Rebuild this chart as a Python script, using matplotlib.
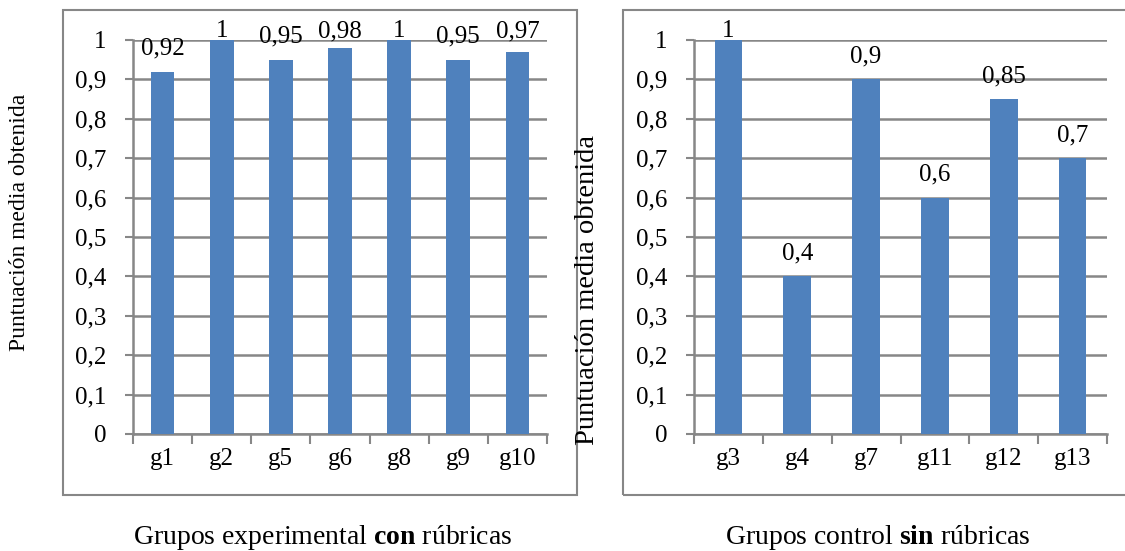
import matplotlib
matplotlib.use('Agg')
import matplotlib.pyplot as plt
from matplotlib.patches import Rectangle

plt.rcParams['font.family'] = ['Liberation Serif', 'DejaVu Serif']
plt.rcParams['mathtext.fontset'] = 'custom'
plt.rcParams['mathtext.rm'] = 'Liberation Serif'
plt.rcParams['mathtext.bf'] = 'Liberation Serif:bold'

# Puntuaciones medias por grupo
exp_groups = ['g1', 'g2', 'g5', 'g6', 'g8', 'g9', 'g10']
exp_scores = [0.92, 1.0, 0.95, 0.98, 1.0, 0.95, 0.97]
ctl_groups = ['g3', 'g4', 'g7', 'g11', 'g12', 'g13']
ctl_scores = [1.0, 0.4, 0.9, 0.6, 0.85, 0.7]
y_ticks = [0, 0.1, 0.2, 0.3, 0.4, 0.5, 0.6, 0.7, 0.8, 0.9, 1]

BAR = '#4F81BD'
GRID = '#878787'
W, H = 1125, 551


def fmt(v):
    return ('%g' % v).replace('.', ',')


def panel(fig, rect, groups, scores, ylabel_xy, ylabel_size, title, title_xy):
    ax = fig.add_axes(rect)
    n = len(groups)
    x = list(range(n))
    ax.bar(x, scores, width=0.4, color=BAR, zorder=3)
    ax.set_xlim(-0.5, n - 0.5)
    ax.set_ylim(0, 1)
    ax.set_yticks(y_ticks)
    ax.set_yticklabels([fmt(t) for t in y_ticks], fontsize=18)
    ax.set_xticks(x)
    ax.set_xticklabels(groups, fontsize=18)
    ax.set_xticks([i - 0.5 for i in range(n + 1)], minor=True)
    ax.tick_params(axis='x', which='major', length=0, pad=10)
    ax.tick_params(axis='x', which='minor', length=7, width=1.5, color=GRID)
    ax.tick_params(axis='y', length=6, width=1.5, color=GRID, pad=13)
    ax.yaxis.grid(True, color=GRID, linewidth=1.8, zorder=0)
    for s in ['top', 'right']:
        ax.spines[s].set_visible(False)
    for s in ['left', 'bottom']:
        ax.spines[s].set_color(GRID)
        ax.spines[s].set_linewidth(1.8)
    ax.set_axisbelow(True)

    # value labels sit above each bar, kept inside the top margin
    for xi, v in zip(x, scores):
        ax.text(xi, min(v + 0.043, 1.007), fmt(v), ha='center', va='baseline',
                fontsize=18, clip_on=False, zorder=4)

    fig.text(ylabel_xy[0] / W, 1 - ylabel_xy[1] / H, 'Puntuación media obtenida',
             rotation=90, ha='center', va='center', fontsize=ylabel_size)
    fig.text(title_xy[0] / W, 1 - title_xy[1] / H, title,
             ha='center', va='center', fontsize=20)
    return ax


fig = plt.figure(figsize=(W / 100, H / 100), dpi=100)

# chart frames
fig.add_artist(Rectangle((63 / W, 1 - 495 / H), (577 - 63) / W, (495 - 10) / H,
                         transform=fig.transFigure, fill=False,
                         edgecolor=GRID, linewidth=1.5))
fig.add_artist(Rectangle((623 / W, 1 - 495 / H), (1130 - 623) / W, (495 - 10) / H,
                         transform=fig.transFigure, fill=False,
                         edgecolor=GRID, linewidth=1.5))

panel(fig, [133 / W, 1 - 434 / H, 414 / W, 394 / H], exp_groups, exp_scores,
      (20, 222), 17, r'Grupos experimental $\mathbf{con}$ rúbricas', (323, 538))
panel(fig, [694 / W, 1 - 434 / H, 413 / W, 394 / H], ctl_groups, ctl_scores,
      (588, 290), 20.5, r'Grupos control $\mathbf{sin}$ rúbricas', (878, 538))

fig.savefig('out.png', dpi=100)
